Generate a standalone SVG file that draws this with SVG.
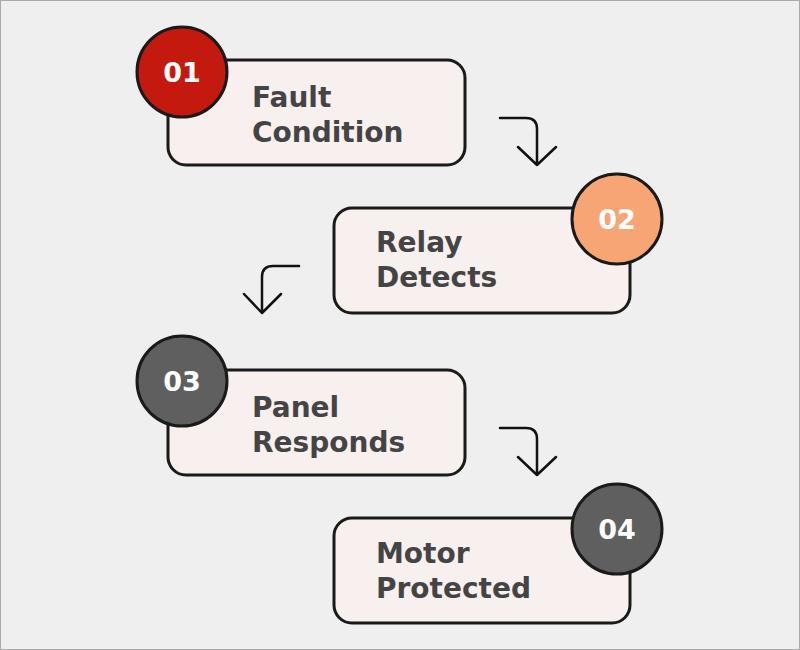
<svg xmlns="http://www.w3.org/2000/svg" width="800" height="650" viewBox="0 0 800 650">
<style>
.box{fill:#f8efef;stroke:#1a1a1a;stroke-width:3}
.badge{stroke:#1a1a1a;stroke-width:3}
.num{font-family:"DejaVu Sans","Noto Sans",sans-serif;font-weight:700;font-size:27px;fill:#ffffff;text-anchor:middle}
.lbl{font-family:"DejaVu Sans","Noto Sans",sans-serif;font-weight:700;font-size:28px;fill:#444444}
.arr{fill:none;stroke:#111111;stroke-width:2.5;stroke-linecap:round;stroke-linejoin:round}
</style>
<rect x="0.5" y="0.5" width="799" height="649" fill="#efefef" stroke="#aaaaaa" stroke-width="1"/>
<g id="connectors">
<path class="arr" d="M500 118 H526 Q537 118 537 129 V165 M518 147 L537 165 L556 147"/>
<path class="arr" d="M299 266 H273 Q262 266 262 277 V313 M244 294 L262 313 L281 294"/>
<path class="arr" d="M500 428 H526 Q537 428 537 439 V475 M518 457 L537 475 L556 457"/>
</g>
<g id="step1">
<rect class="box" x="168" y="60" width="297" height="105" rx="18"/>
<circle class="badge" cx="182" cy="72" r="45" fill="#c4190e"/>
<text class="num" x="182" y="82">01</text>
<text class="lbl" x="252" y="107">Fault</text>
<text class="lbl" x="252" y="142">Condition</text>
</g>
<g id="step2">
<rect class="box" x="334" y="208" width="296" height="105" rx="18"/>
<circle class="badge" cx="617" cy="219" r="45" fill="#f7a574"/>
<text class="num" x="617" y="229">02</text>
<text class="lbl" x="376" y="252">Relay</text>
<text class="lbl" x="376" y="287">Detects</text>
</g>
<g id="step3">
<rect class="box" x="168" y="370" width="297" height="105" rx="18"/>
<circle class="badge" cx="182" cy="381" r="45" fill="#5f5f5f"/>
<text class="num" x="182" y="391">03</text>
<text class="lbl" x="252" y="417">Panel</text>
<text class="lbl" x="252" y="452">Responds</text>
</g>
<g id="step4">
<rect class="box" x="334" y="518" width="296" height="105" rx="18"/>
<circle class="badge" cx="617" cy="529" r="45" fill="#5f5f5f"/>
<text class="num" x="617" y="539">04</text>
<text class="lbl" x="376" y="563">Motor</text>
<text class="lbl" x="376" y="598">Protected</text>
</g>
</svg>
